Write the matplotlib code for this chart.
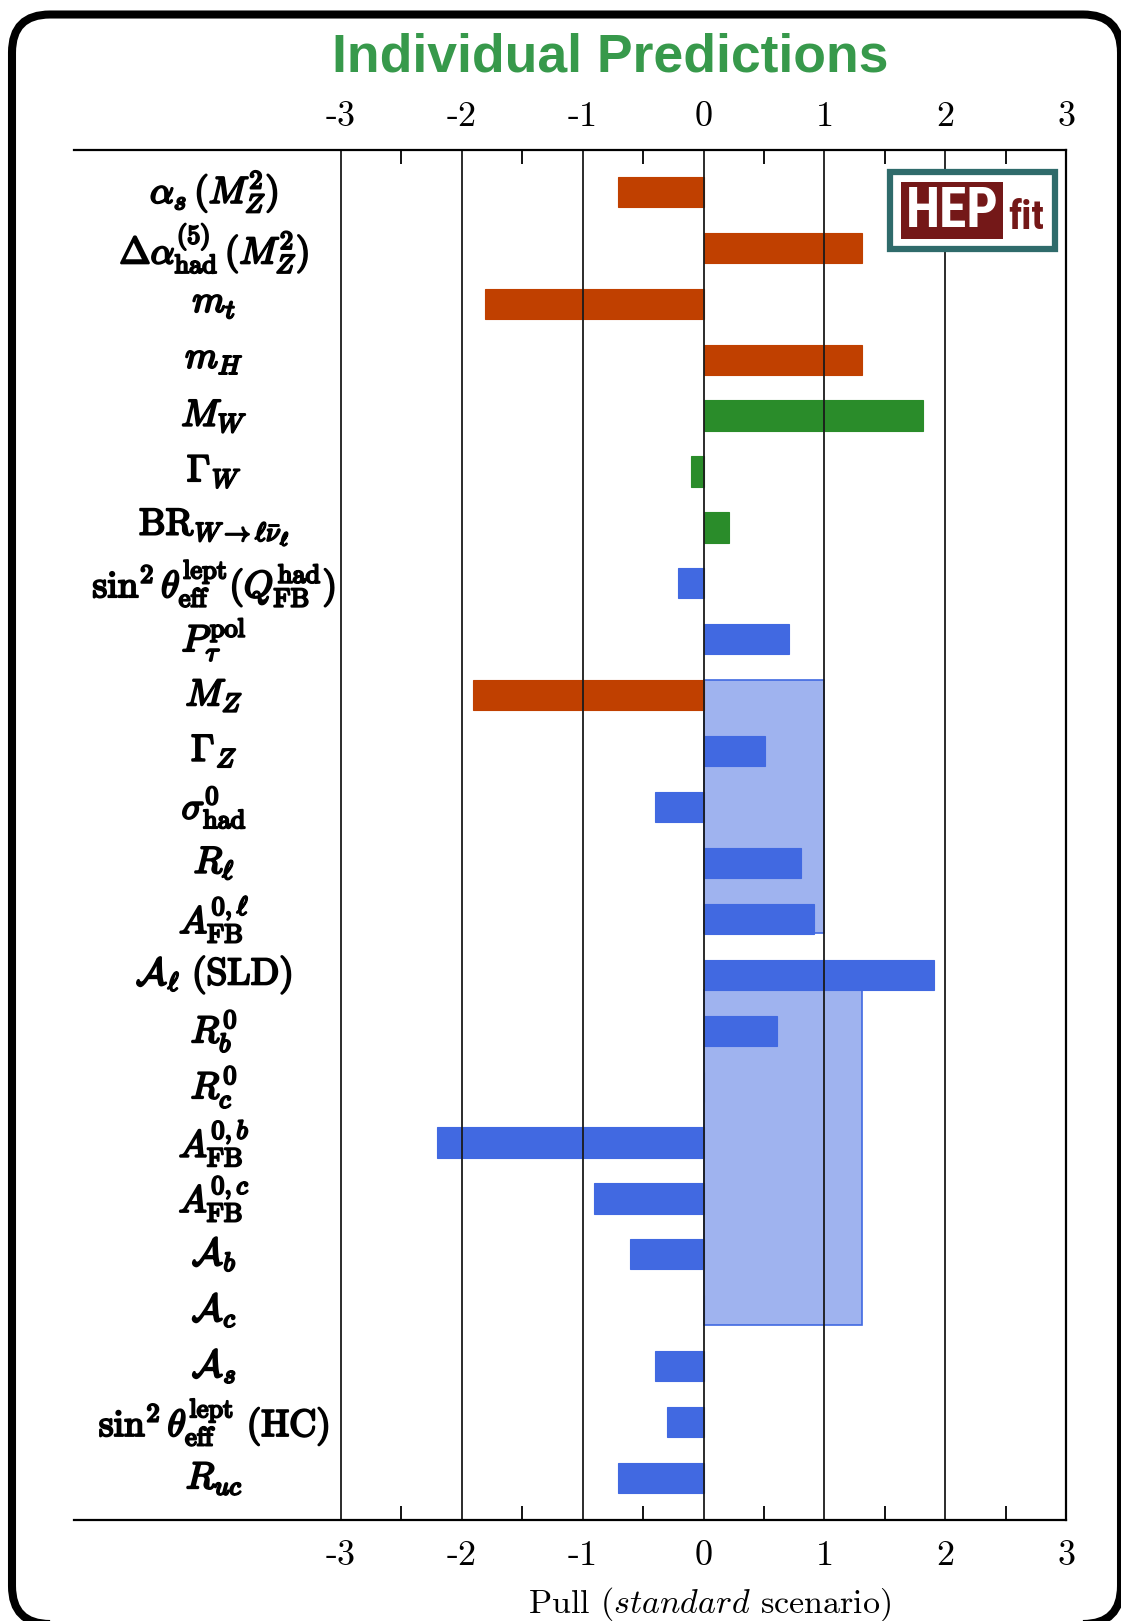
import matplotlib
matplotlib.use("Agg")
import matplotlib.pyplot as plt
import matplotlib.patheffects as pe
from matplotlib import font_manager
from matplotlib.patches import Rectangle, FancyBboxPatch
from matplotlib.transforms import IdentityTransform
import numpy as np

# observables, top to bottom
labels = [
    r'$\alpha_s\,(M_Z^2)$',
    r'$\Delta\alpha^{(5)}_{\mathrm{had}}\,(M_Z^2)$',
    r'$m_t$',
    r'$m_H$',
    r'$M_W$',
    r'$\Gamma_W$',
    r'$\mathrm{BR}_{W\to\ell\bar{\nu}_\ell}$',
    r'$\sin^2\theta_{\mathrm{eff}}^{\mathrm{lept}}(Q_{\mathrm{FB}}^{\mathrm{had}})$',
    r'$P_\tau^{\mathrm{pol}}$',
    r'$M_Z$',
    r'$\Gamma_Z$',
    r'$\sigma_{\mathrm{had}}^0$',
    r'$R_\ell$',
    r'$A_{\mathrm{FB}}^{0,\ell}$',
    r'$\mathcal{A}_\ell\ (\mathrm{SLD})$',
    r'$R_b^0$',
    r'$R_c^0$',
    r'$A_{\mathrm{FB}}^{0,b}$',
    r'$A_{\mathrm{FB}}^{0,c}$',
    r'$\mathcal{A}_b$',
    r'$\mathcal{A}_c$',
    r'$\mathcal{A}_s$',
    r'$\sin^2\theta_{\mathrm{eff}}^{\mathrm{lept}}\ (\mathrm{HC})$',
    r'$R_{uc}$',
]
pulls = [-0.71, 1.31, -1.81, 1.31, 1.82, -0.10, 0.21, -0.21, 0.71, -1.91,
         0.51, -0.40, 0.81, 0.91, 1.91, 0.61, 0.0, -2.21, -0.91, -0.61,
         0.0, -0.40, -0.30, -0.71]
groups = ['input'] * 4 + ['W'] * 3 + ['Z'] * 2 + ['input'] + ['Z'] * 14

# shaded pull ranges
band_xmax = [1.0, 1.31]
band_rows = [(8.73, 13.25), (14.27, 20.27)]

xtick_vals = [-3, -2, -1, 0, 1, 2, 3]
xtick_text = ['-3', '-2', '-1', '0', '1', '2', '3']

colors = {'input': '#c04000', 'W': '#2a8c2a', 'Z': '#4169e1'}

plt.rcParams['font.family'] = 'cmr10'
plt.rcParams['mathtext.fontset'] = 'cm'
plt.rcParams['axes.unicode_minus'] = False

available = {f.name for f in font_manager.fontManager.ttflist}
title_font = 'Liberation Sans' if 'Liberation Sans' in available else 'DejaVu Sans'
logo_font = title_font
for cand in ['Liberation Sans Narrow', 'Roboto Condensed']:
    if cand in available:
        logo_font = cand
        break

fig = plt.figure(figsize=(11.21, 16.21), dpi=100)
ax = fig.add_axes([0.066, 0.0623, 0.885, 0.8452])

y = np.arange(len(labels))
bar_colors = [colors[g] for g in groups]
ax.barh(y, pulls, height=0.54, color=bar_colors, edgecolor=bar_colors,
        linewidth=0.8, zorder=2)

for xmax, (r0, r1) in zip(band_xmax, band_rows):
    ax.add_patch(Rectangle((0, r0), xmax, r1 - r0, facecolor='#4169e1',
                           alpha=0.5, edgecolor='none', zorder=1.5))
    ax.add_patch(Rectangle((0, r0), xmax, r1 - r0, facecolor='none',
                           edgecolor='#4169e1', linewidth=1.2, zorder=1.6))

for xv in xtick_vals:
    ax.axvline(xv, color='#1a1a1a', linewidth=1.3, zorder=3)

# row labels, emboldened with a thin stroke
for i, lab in enumerate(labels):
    ax.text(-4.05, i, lab, ha='center', va='center', fontsize=27,
            path_effects=[pe.withStroke(linewidth=1.5, foreground='black')])

ax.set_xlim(-5.21, 3.0)
ax.set_ylim(len(labels) - 0.25, -0.75)
ax.set_yticks([])
ax.set_xticks(xtick_vals)
ax.set_xticklabels(xtick_text, fontsize=26)
ax.set_xticks(np.arange(-2.5, 3.0, 1.0), minor=True)
ax.tick_params(axis='x', which='major', length=0, pad=15,
               top=True, labeltop=False, bottom=True)
ax.tick_params(axis='x', which='minor', direction='in', length=10, width=1.3,
               top=True, bottom=True)

# tick labels along the top edge
for xv, s in zip(xtick_vals, xtick_text):
    ax.text(xv, 1.0175, s, transform=ax.get_xaxis_transform(), fontsize=26,
            ha='center', va='baseline')

ax.spines['left'].set_visible(False)
for s in ['top', 'bottom', 'right']:
    ax.spines[s].set_linewidth(1.6)
    ax.spines[s].set_zorder(4)

ax.set_xlabel(r'Pull ($\mathit{standard}$ scenario)', fontsize=24.5)
ax.xaxis.label.set_verticalalignment('baseline')
ax.xaxis.set_label_coords(0.641, -0.0672)

# HEPfit logo
ax.add_patch(Rectangle((1.544, -0.363), 1.366, 1.377, facecolor='white',
                       edgecolor='#2f6b6b', linewidth=4.5, zorder=5))
ax.add_patch(Rectangle((1.635, -0.184), 0.844, 1.019, facecolor='#741818',
                       edgecolor='none', zorder=6))
ax.text(2.057, 0.36, 'HEP', color='white', fontsize=40, fontweight='bold',
        family=logo_font, ha='center', va='center', zorder=7)
ax.text(2.67, 0.66, 'fit', color='#741818', fontsize=29, fontweight='bold',
        family=logo_font, ha='center', va='baseline', zorder=7)

fig.text(0.544, 1 - 72 / 1621, 'Individual Predictions', color='#37994b',
         fontsize=38.5, fontweight='bold', family=title_font,
         ha='center', va='baseline')

# rounded frame around the figure
frame = FancyBboxPatch((12, -3), 1109, 1609.5,
                       boxstyle='round,pad=0,rounding_size=38',
                       transform=IdentityTransform(), facecolor='none',
                       edgecolor='black', linewidth=5.8, clip_on=False)
fig.add_artist(frame)

fig.savefig('out.png', dpi=100)
